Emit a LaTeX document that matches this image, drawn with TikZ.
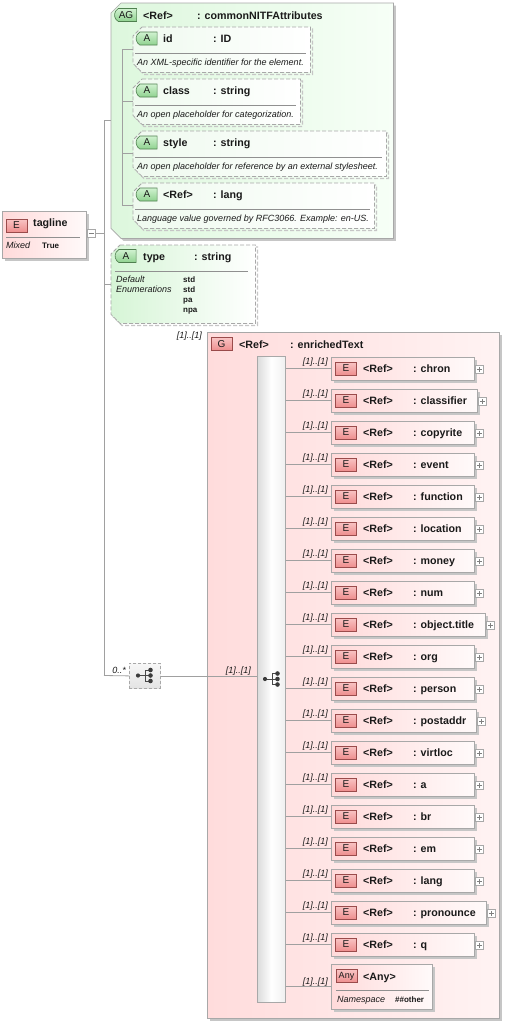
\documentclass[tikz,border=0pt]{standalone}
\usepackage{fontspec}
\setmainfont{Liberation Sans}
\usetikzlibrary{shadows,shapes.misc}
\definecolor{cline}{HTML}{A0A0A0}
\definecolor{cbox}{HTML}{A8A8A8}
\definecolor{cshadow}{HTML}{C6C6C6}
\definecolor{elemL}{HTML}{FFDADA}
\definecolor{elemR}{HTML}{FFFAFA}
\definecolor{gL}{HTML}{FFDCDC}
\definecolor{gR}{HTML}{FFF3F3}
\definecolor{agL}{HTML}{DDF7DD}
\definecolor{agR}{HTML}{F7FFF7}
\definecolor{atL}{HTML}{EFFAEF}
\definecolor{tyL}{HTML}{D6F5D6}
\definecolor{ebT}{HTML}{F9C4C4}
\definecolor{ebB}{HTML}{EE8E8E}
\definecolor{ebD}{HTML}{9A4B4B}
\definecolor{abT}{HTML}{D0F2D0}
\definecolor{abB}{HTML}{8FD28F}
\definecolor{abD}{HTML}{4F7F4F}
\definecolor{ctext}{HTML}{1A1A1A}
\newcommand\chamfbox[3]{%
  \path[#3] ([xshift=#2pt]#1.north west) -- (#1.north east) -- (#1.south east)
    -- ([xshift=#2pt]#1.south west) -- ([yshift=#2pt]#1.south west)
    -- ([yshift=-#2pt]#1.north west) -- cycle;}
\newcommand\choiceicon[2]{%
  \draw[icon] (#1-7,#2) -- (#1,#2) (#1,#2-5.5) -- (#1,#2+5.5)
     (#1,#2-5.5) -- (#1+5,#2-5.5) (#1,#2) -- (#1+5,#2) (#1,#2+5.5) -- (#1+5,#2+5.5);
  \fill[ctext!85] (#1-7,#2) circle (2.1pt) (#1+5.5,#2-5.5) circle (2.3pt)
     (#1+5.5,#2) circle (2.3pt) (#1+5.5,#2+5.5) circle (2.3pt);}
\tikzset{
  conn/.style={draw=cline, line width=0.8pt},
  sep/.style={draw=cline!90!black, line width=0.7pt},
  icon/.style={draw=ctext!80, line width=0.9pt},
  shad/.style={drop shadow={shadow xshift=2.5pt, shadow yshift=-2.5pt, fill=cshadow, opacity=1}},
  elembox/.style={shape=rectangle, draw=cbox, line width=0.7pt, left color=elemL, right color=elemR, shad, anchor=north west, inner sep=0pt},
  gbox/.style={shape=rectangle, draw=cbox, line width=0.7pt, left color=gL, right color=gR, shad, anchor=north west, inner sep=0pt},
  barbox/.style={shape=rectangle, draw=cbox, line width=0.7pt, left color=gray!28, right color=gray!12, middle color=white, anchor=north west, inner sep=0pt},
  chbox/.style={shape=rectangle, draw=cbox, line width=0.8pt, dash pattern=on 3pt off 2pt, top color=gray!6, bottom color=gray!22, anchor=north west, inner sep=0pt},
  ghost/.style={shape=rectangle, anchor=north west, inner sep=0pt},
  agbox/.style={draw=cbox, line width=0.7pt, left color=agL, right color=agR, shad},
  atbox/.style={draw=cbox, line width=0.8pt, dash pattern=on 4pt off 2pt, left color=atL, right color=white,
     drop shadow={shadow xshift=2pt, shadow yshift=-2pt, fill=none, draw=cshadow, line width=1.2pt, dash pattern=on 4pt off 2pt, opacity=1}},
  tybox/.style={draw=cbox, line width=0.8pt, dash pattern=on 4pt off 2pt, left color=tyL, right color=white,
     drop shadow={shadow xshift=2pt, shadow yshift=-2pt, fill=none, draw=cshadow, line width=1.2pt, dash pattern=on 4pt off 2pt, opacity=1}},
  plusbox/.style={shape=rectangle, draw=cbox, fill=white, line width=0.6pt, minimum width=8pt, minimum height=8pt, inner sep=0pt},
  plusline/.style={draw=gray, line width=0.6pt},
  badgeE/.style={shape=rectangle, draw=ebD, top color=ebT, bottom color=ebB, minimum width=21pt, minimum height=13pt, inner sep=0pt, line width=0.6pt, font=\fontsize{10}{11}\selectfont, text=ctext},
  badgeA/.style={shape=rounded rectangle, rounded rectangle right arc=none, rounded rectangle arc length=120, draw=abD, top color=abT, bottom color=abB, minimum width=21pt, minimum height=13pt, inner sep=0pt, line width=0.6pt, font=\fontsize{10}{11}\selectfont, text=ctext},
  ttl/.style={font=\fontsize{10.67}{12}\selectfont\bfseries, text=ctext, inner sep=0pt},
  desc/.style={font=\fontsize{9}{10}\selectfont\itshape, text=ctext, inner sep=0pt},
  mult/.style={font=\fontsize{9}{10}\selectfont\itshape, text=ctext, inner sep=0pt},
  small/.style={font=\fontsize{8}{9}\selectfont\bfseries, text=ctext, inner sep=0pt},
}
\begin{document}
\begin{tikzpicture}[x=1pt,y=-1pt]
\useasboundingbox[fill=white] (0,0) rectangle (506,1026);

% ---------- attribute group ----------
\node[ghost, minimum width=282, minimum height=235] (ag) at (111,3) {};
\chamfbox{ag}{10}{agbox}
\node[badgeA, minimum width=22pt] (agb) at (126,15) {AG};
\node[ttl, anchor=base west] (agr) at (143,19) {<Ref>};
\node[ttl, anchor=base west] (agn) at (197,19) {: commonNITFAttributes};
\coordinate (agsp) at (122,49);
\foreach \aname/\atype/\arx/\adesc [count=\jj from 0] in {
   id/ID/310/{An XML-specific identifier for the element.},
   class/string/300/{An open placeholder for categorization.},
   style/string/386/{An open placeholder for reference by an external stylesheet.},
   {<Ref>}/lang/374/{Language value governed by RFC3066. Example: en-US.}} {
  \pgfmathsetmacro\yt{27+52*\jj}
  \pgfmathsetmacro\aw{\arx-133}
  \node[ghost, minimum width=\aw, minimum height=45] (at\jj) at (133,\yt) {};
  \chamfbox{at\jj}{9}{atbox}
  \node[badgeA] (ab\jj) at (147,\yt+11.5) {A};
  \node[ttl, anchor=base west] (an\jj) at (163,\yt+15.5) {\aname};
  \node[ttl, anchor=base west] (aty\jj) at (213,\yt+15.5) {: \atype};
  \draw[sep] (135,\yt+26) -- (\arx-4,\yt+26);
  \node[desc, anchor=base west] (ad\jj) at (137,\yt+38) {\adesc};
  \draw[conn] (agsp |- at\jj.west) -- (at\jj.west);
}
\draw[conn] (agsp |- at0.west) -- (agsp |- at3.west);

% ---------- type attribute ----------
\node[ghost, minimum width=144, minimum height=78] (ty) at (111,245) {};
\chamfbox{ty}{9}{tybox}
\node[badgeA] (tyb) at (126,256) {A};
\node[ttl, anchor=base west] (tyn) at (143,260) {type};
\node[ttl, anchor=base west] (tyt) at (194,260) {: string};
\draw[sep] (115,271) -- (248,271);
\node[desc, anchor=base west] (tyd1) at (116,282) {Default};
\node[desc, anchor=base west] (tyd2) at (116,292) {Enumerations};
\node[small, anchor=base west] (tyv1) at (183,282) {std};
\node[small, anchor=base west] (tyv2) at (183,292) {std};
\node[small, anchor=base west] (tyv3) at (183,302) {pa};
\node[small, anchor=base west] (tyv4) at (183,312) {npa};

% ---------- tagline ----------
\node[elembox, minimum width=84, minimum height=47] (tag) at (2,211) {};
\node[badgeE] (tagb) at (16.5,225.5) {E};
\node[ttl, anchor=base west] (tagn) at (33,226) {tagline};
\draw[sep] (6,237) -- (80,237);
\node[desc, anchor=base west] (tagm1) at (6,248) {Mixed};
\node[small, anchor=base west] (tagm2) at (42,248) {True};
\node[plusbox] (tagx) at (91.5,233.5) {};
\draw[plusline] ([xshift=-2.5pt]tagx.center) -- ([xshift=2.5pt]tagx.center);

\coordinate (spT) at (104,120.5);
\coordinate (spB) at (104,675.5);
\draw[conn] (tagx.east) -- (tagx.east -| spT);
\draw[conn] (spT) -- (spB);
\draw[conn] (spT) -- (ag.west |- spT);
\draw[conn] (spT |- ty.west) -- (ty.west);

% ---------- group enrichedText ----------
\node[gbox, minimum width=292, minimum height=686] (gb) at (207,332) {};
\node[mult, anchor=base east] (gm) at (202,338) {[1]..[1]};
\node[badgeE] (gbb) at (221.5,344) {G};
\node[ttl, anchor=base west] (gbr) at (239,348) {<Ref>};
\node[ttl, anchor=base west] (gbn) at (290,348) {: enrichedText};
\node[barbox, minimum width=28, minimum height=646] (bar) at (257,356) {};
\choiceicon{272}{679}

% ---------- outer choice ----------
\node[chbox, minimum width=31, minimum height=25] (ch) at (129,663) {};
\choiceicon{145}{675.5}
\node[mult, anchor=base east] (chz) at (126,673) {0..*};
\draw[conn] (spB) -- (ch.west);
\draw[conn] (ch.east) -- (bar.west |- ch.east);
\node[mult, anchor=base east] (chm) at (251,673) {[1]..[1]};

% ---------- elements ----------
\foreach \nm/\rx [count=\ii from 0] in {chron/474,classifier/477,copyrite/474,event/474,function/474,location/474,money/474,num/474,object.title/485,org/474,person/474,postaddr/476,virtloc/474,a/474,br/474,em/474,lang/474,pronounce/486,q/474} {
  \pgfmathsetmacro\ty{357+32*\ii}
  \pgfmathsetmacro\ew{\rx-331}
  \node[elembox, minimum width=\ew, minimum height=23] (el\ii) at (331,\ty) {};
  \node[badgeE] (eb\ii) at (346,\ty+11.5) {E};
  \node[ttl, anchor=base west] (er\ii) at (363,\ty+15.5) {<Ref>};
  \node[ttl, anchor=base west] (en\ii) at (413,\ty+15.5) {: \nm};
  \node[plusbox] (ep\ii) at (\rx+5.5,\ty+12) {};
  \draw[plusline] ([xshift=-2.5pt]ep\ii.center) -- ([xshift=2.5pt]ep\ii.center);
  \draw[plusline] ([yshift=-2.5pt]ep\ii.center) -- ([yshift=2.5pt]ep\ii.center);
  \draw[conn] (bar.east |- el\ii.west) -- (el\ii.west);
  \node[mult, anchor=base east] (mu\ii) at (328,\ty+7.5) {[1]..[1]};
}

% ---------- any ----------
\node[elembox, minimum width=101, minimum height=45] (any) at (331,964) {};
\node[badgeE, font=\fontsize{9}{10}\selectfont] (anyb) at (346.5,976) {Any};
\node[ttl, anchor=base west] (anyt) at (363,980) {<Any>};
\draw[sep] (336,990) -- (429,990);
\node[desc, anchor=base west] (anyns) at (337,1002) {Namespace};
\node[small, anchor=base west] (anyv) at (395,1002) {\#\#other};
\draw[conn] (bar.east |- any.west) -- (any.west);
\node[mult, anchor=base east] (anym) at (328,984) {[1]..[1]};
\end{tikzpicture}
\end{document}
